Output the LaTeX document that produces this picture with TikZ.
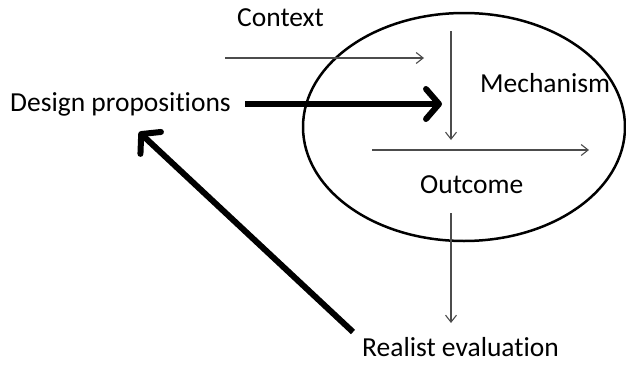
\documentclass[tikz,border=0pt]{standalone}
\usepackage{fontspec}
\setmainfont{Carlito}[Ligatures=NoCommon]
\usetikzlibrary{arrows.meta,shapes.geometric}
\begin{document}
\begin{tikzpicture}[x=1pt,y=-1pt,
  label/.style={inner sep=0pt,anchor=base west,font=\fontsize{27.5}{32}\selectfont},
  thin arrow/.style={draw=black!70,line width=1.1pt,
    -{Straight Barb[length=7pt,width=11pt,line width=1.1pt]}},
  bold arrow/.style={draw=black,line width=6pt,line cap=butt,
    -{Straight Barb[length=13pt,width=30pt,line width=6pt,round]}},
  boundary/.style={draw=black,line width=2.5pt,ellipse,inner sep=0pt}]
\useasboundingbox (0,0) rectangle (626,364);

% the CMO ellipse
\node[boundary,minimum width=322pt,minimum height=228pt] (cmo) at (464,127) {};

% labels
\node[label] (ctx)  at (237,27)  {Context};
\node[label] (dp)   at (10,111)  {Design propositions};
\node[label] (mech) at (480,92)  {Mechanism};
\node[label] (out)  at (420,193) {Outcome};
\node[label] (real) at (362,356) {Realist evaluation};

% free ends of the thin arrows
\coordinate (ctxA) at (225,58);
\coordinate (ctxB) at (424,58);
\coordinate (mechA) at (451,31);
\coordinate (mechB) at (451,140);
\coordinate (outA) at (372,150);
\coordinate (outB) at (589,150);
\coordinate (evalA) at (451,213);
\coordinate (evalB) at (451,323);
\coordinate (dpA) at (245,104);
\coordinate (dpB) at (442,104);
\coordinate (realA) at (353,332);
\coordinate (realB) at (139,132);

% thin flow arrows
\draw[thin arrow] (ctxA) -- (ctxB);
\draw[thin arrow] (mechA) -- (mechB);
\draw[thin arrow] (outA) -- (outB);
\draw[thin arrow] (evalA) -- (evalB);

% bold arrows
\draw[bold arrow] (dpA) -- (dpB);
\draw[bold arrow] (realA) -- (realB);
\end{tikzpicture}
\end{document}
